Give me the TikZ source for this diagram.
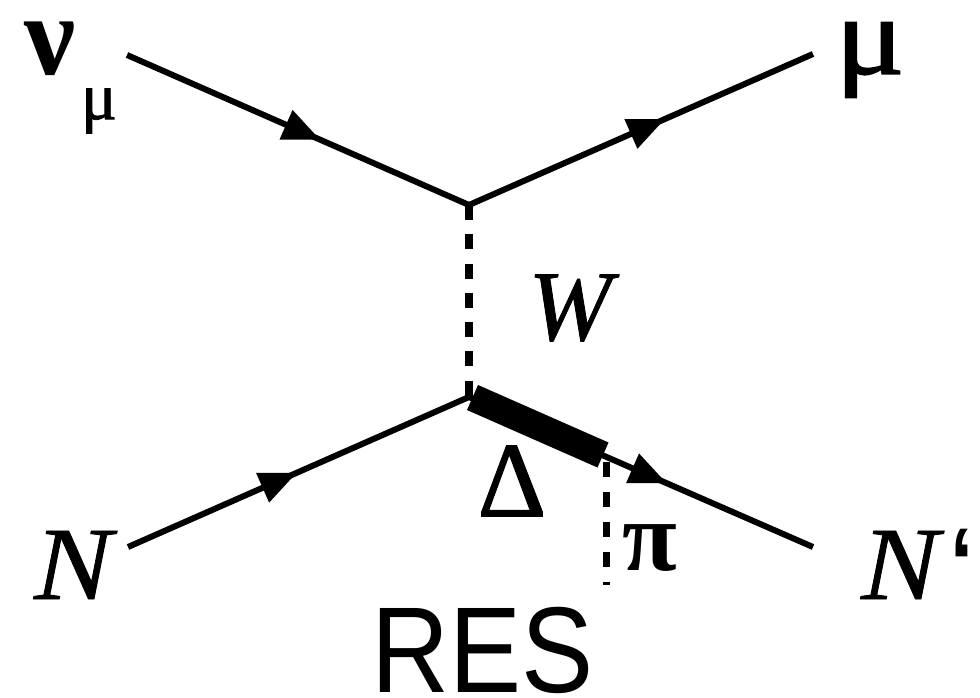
\documentclass[tikz,border=0pt]{standalone}
\usepackage{fontspec}
\setmainfont{Liberation Serif}
\newfontfamily\helv[FakeStretch=0.885]{Liberation Sans}
\newfontfamily\qfont{Liberation Sans}
\newfontfamily\symb[FakeBold=1.2]{Liberation Serif}
\newfontfamily\symbwide[FakeBold=1.4,FakeStretch=1.16]{Liberation Serif}
\newfontfamily\witalic[FakeBold=0.8]{Liberation Serif Italic}
\newfontfamily\nitalic[FakeBold=0.8,FakeStretch=1.12]{Liberation Serif Italic}
\usetikzlibrary{arrows.meta,decorations.markings}
\newcommand{\fs}[1]{\fontsize{#1}{#1}\selectfont}
\tikzset{
  px/.style={x=0.75pt,y=-0.75pt},
  fermion/.style={line width=4.5pt,line cap=butt,black},
  midarrow/.style={postaction={decorate},decoration={markings,
     mark=at position #1 with {\arrow{Triangle[length=28pt,width=23pt]}}}},
  boson/.style={line width=5.5pt,black,dash pattern=on 11.25pt off 10.7pt},
  pionline/.style={line width=5pt,black,dash pattern=on 11.25pt off 11.25pt},
  reson/.style={line width=20.5pt,black,line cap=butt},
  lbl/.style={inner sep=0pt,outer sep=0pt,black,anchor=center},
}
\begin{document}
\begin{tikzpicture}[px]
\useasboundingbox (0,0) rectangle (980,698);
\fill[white] (0,0) rectangle (980,698);
% vertices
\coordinate (vtop) at (469,205);
\coordinate (vbot) at (469,397);
\coordinate (nustart) at (127,55);
\coordinate (muend) at (813,54);
\coordinate (nstart) at (128,547);
\coordinate (nend) at (813,547);
\coordinate (resA) at (472.5,397.5);
\coordinate (resB) at (603,455);
\coordinate (piA) at (606.5,462);
\coordinate (piB) at (606.5,585);
% connectors
\draw[fermion,midarrow=0.565] (nustart) -- (vtop);
\draw[fermion,midarrow=0.57] (vtop) -- (muend);
\draw[fermion,midarrow=0.495] (nstart) -- (vbot);
\draw[fermion,midarrow=0.575] (vbot) -- (nend);
\draw[boson] (vtop) -- (vbot);
\draw[reson] (resA) -- (resB);
\draw[pionline] (piA) -- (piB);
% labels
\node[lbl] (nu) at (50,49) {\fs{86}\bfseries ν};
\node[lbl] (musub) at (99,111) {\fs{50}\symb μ};
\node[lbl] (mu) at (870,60) {\fs{84}\symbwide μ};
\node[lbl] (W) at (570,308) {\fs{75}\witalic W};
\node[lbl] (Delta) at (512,481) {\fs{80}\symb Δ};
\node[lbl] (pi) at (650,548) {\fs{75}\bfseries π};
\node[lbl] (N) at (73,565) {\fs{78}\nitalic N};
\node[lbl] (Np) at (900,565) {\fs{78}\nitalic N};
\begin{scope}
\clip (940,500) rectangle (970,600);
\node[lbl,anchor=base west] (q) at (951,614) {\fs{93}\qfont “};
\end{scope}
\node[lbl] (res) at (482.5,650) {\fs{91.6}\helv RES};
\end{tikzpicture}
\end{document}
